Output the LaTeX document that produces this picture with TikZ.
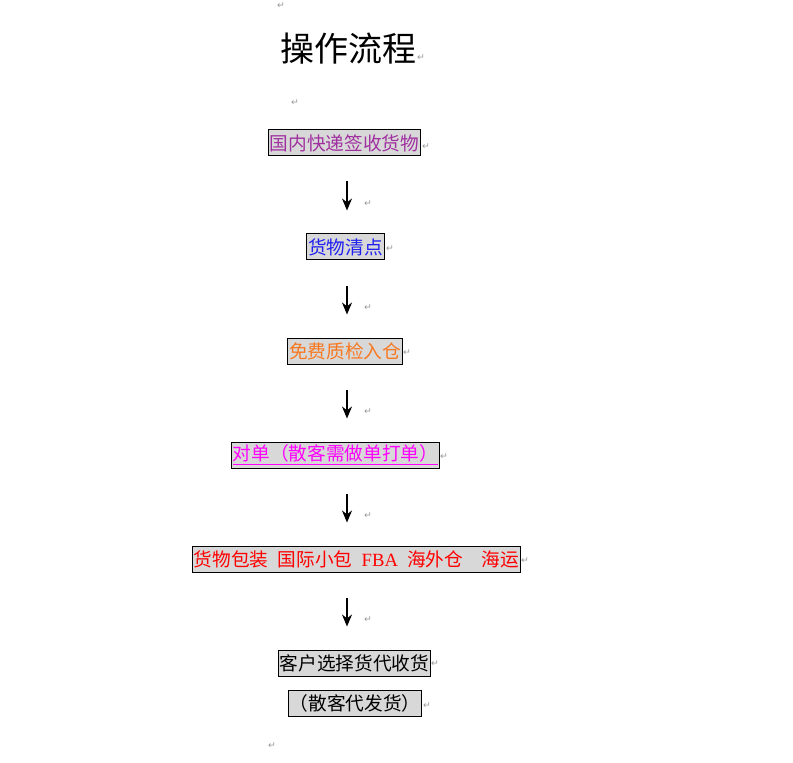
\documentclass[tikz,border=0pt]{standalone}
\usepackage{fontspec}
\usepackage{xcolor}
\usetikzlibrary{arrows.meta,positioning}
\newfontfamily\cjk{Noto Sans CJK SC}
\newfontfamily\latinserif{Liberation Serif}
\newfontfamily\markfont{DejaVu Sans}
\definecolor{boxgray}{HTML}{D8D8D8}
\definecolor{stpurple}{HTML}{A030A0}
\definecolor{stblue}{HTML}{2020F0}
\definecolor{storange}{HTML}{F87820}
\definecolor{stmagenta}{HTML}{FF00FF}
\definecolor{stred}{HTML}{FF0000}

\begin{document}
\begin{tikzpicture}[
    x=0.75pt, y=-0.75pt, >=Stealth,
    stepbox/.style={draw=black, line width=0.75pt, fill=boxgray, inner xsep=1pt, inner ysep=0pt,
      minimum height=19.5pt, font=\cjk\fontsize{14pt}{16pt}\selectfont},
    flow/.style={-{Stealth[length=9pt, width=7.5pt]}, line width=2pt, black,
      shorten <=18.75pt, shorten >=17.25pt},
    pmark/.style={font=\markfont\fontsize{7pt}{7pt}\selectfont, text=black!40, inner sep=0pt}
  ]
  \useasboundingbox (0,0) rectangle (793,763);
  % title and steps
  \node[font=\cjk\fontsize{25.5pt}{28pt}\selectfont] (title) at (348,49) {操作流程};
  \node[stepbox, text=stpurple] (recv) at (344.5,143) {国内快递签收货物};
  \node[stepbox, text=stblue] (count) at (345.5,247) {货物清点};
  \node[stepbox, text=storange] (check) at (345,351) {免费质检入仓};
  \node[stepbox, text=stmagenta] (order) at (335.5,455) {\underline{对单（散客需做单打单）}};
  \node[stepbox, text=stred] (pack) at (356.5,559)
    {货物包装\hspace{.5em}国际小包\hspace{.5em}{\latinserif FBA}\hspace{.5em}海外仓\hspace{1em}海运};
  \node[stepbox, text=black] (agent) at (354.5,663) {客户选择货代收货};
  \node[stepbox, text=black] (retail) at (355,703) {（散客代发货）};
  \coordinate (axis) at (347,0);
  \draw[flow] (recv.south -| axis) -- (count.north -| axis);
  \draw[flow] (count.south -| axis) -- (check.north -| axis);
  \draw[flow] (check.south -| axis) -- (order.north -| axis);
  \draw[flow] (order.south -| axis) -- (pack.north -| axis);
  \draw[flow] (pack.south -| axis) -- (agent.north -| axis);
  % paragraph marks
  \foreach \px/\py [count=\k] in {281/6, 421/58, 295/103, 426/147, 368/204, 390/249, 368/308,
      407/353, 368/412, 444/457, 368/516, 525/561, 368/620, 435/664, 427/706, 272/746}
    \node[pmark] (pm\k) at (\px,\py) {↵};
\end{tikzpicture}
\end{document}
